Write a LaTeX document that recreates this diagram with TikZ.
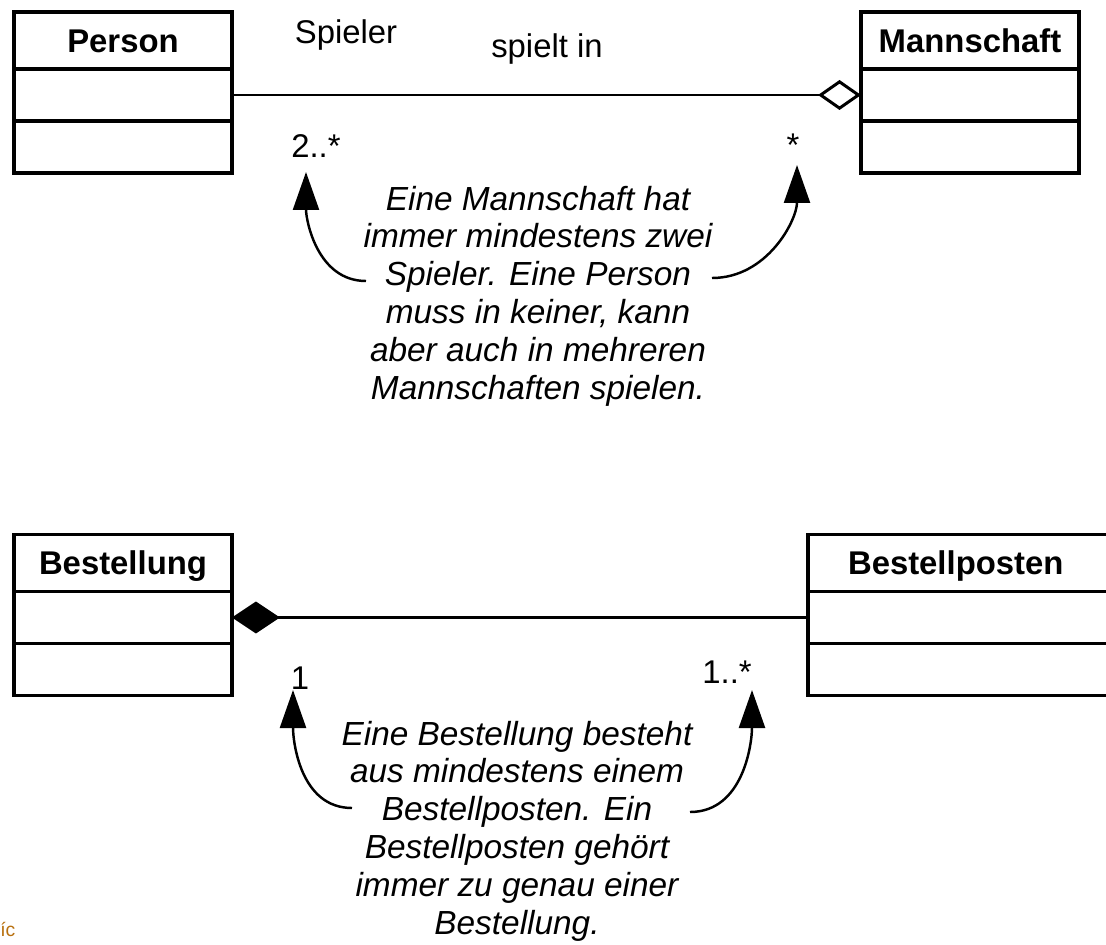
\documentclass[tikz,border=0pt]{standalone}
\usepackage{fontspec}
\setmainfont{Liberation Sans}
\usetikzlibrary{positioning,arrows.meta}
\definecolor{fragorange}{HTML}{B8700F}
\tikzset{classtitle/.style={draw, line width=2pt, outer sep=0pt, inner sep=0pt, minimum width=4.36cm, minimum height=1.14cm, font=\bfseries\fontsize{18.7}{22}\selectfont, text height=13.4pt, text depth=0pt},
  classpart/.style={draw, line width=2pt, outer sep=0pt, inner sep=0pt, minimum width=4.36cm, minimum height=1.04cm},
  assoc/.style={line width=1.7pt},
  rolename/.style={font=\fontsize{18.7}{22}\selectfont, inner sep=0pt, anchor=base},
  remark/.style={align=center, inner sep=0pt, font=\itshape\fontsize{19}{21.5}\selectfont},
  pointer/.style={line width=1.4pt, -{Triangle[length=0.76cm,width=0.52cm]}}}

\begin{document}
\begin{tikzpicture}[x=0.02cm,y=0.02cm]
   \useasboundingbox (0,0) rectangle (1106,-944);
   % Aggregation
   \node[classtitle] (person) at (123,-40.5) {Person};
   \node[classpart, below=0pt of person] (person-attr) {};
   \node[classpart, below=0pt of person-attr] (person-ops) {};
   \node[classtitle] (team) at (970,-40.5) {Mannschaft};
   \node[classpart, below=0pt of team] (team-attr) {};
   \node[classpart, below=0pt of team-attr] (team-ops) {};
   \draw[assoc, -{Diamond[open,length=0.86cm,width=0.6cm]}] (person-attr) -- (team-attr);
   \node[rolename] (role) at (346,-43) {Spieler};
   \node[rolename] (assoc-name) at (547,-57) {spielt in};
   \node[rolename] (mult-person) at (316,-157) {2..*};
   \node[rolename] (mult-team) at (793,-156) {*};
   \node[remark] (note-team) at (538,-296) {Eine Mannschaft hat\\immer mindestens zwei\\Spieler. Eine Person\\muss in keiner, kann\\aber auch in mehreren\\Mannschaften spielen.};
   \coordinate (tip-person) at (306,-172);
   \coordinate (tip-team) at (797,-165);
   \coordinate (from-left) at (366,-281);
   \coordinate (from-right) at (712,-278);
   \draw[pointer] (from-left) to[out=180,in=-90] (tip-person);
   \draw[pointer] (from-right) to[out=0,in=-90] (tip-team);
   % Komposition
   \node[classtitle] (order) at (123,-563) {Bestellung};
   \node[classpart, below=0pt of order] (order-attr) {};
   \node[classpart, below=0pt of order-attr] (order-ops) {};
   \node[classtitle, minimum width=6.6cm, text width=5cm, inner xsep=0.8cm, align=left] (item) at (973,-563) {Bestellposten};
   \node[classpart, minimum width=6.6cm, below=0pt of item] (item-attr) {};
   \node[classpart, minimum width=6.6cm, below=0pt of item-attr] (item-ops) {};
   \draw[assoc, {Diamond[length=0.96cm,width=0.64cm]}-] (order-attr) -- (item-attr);
   \node[rolename] (mult-order) at (300,-689) {1};
   \node[rolename] (mult-item) at (727,-683) {1..*};
   \node[remark] (note-order) at (517,-831) {Eine Bestellung besteht\\aus mindestens einem\\Bestellposten. Ein\\Bestellposten gehört\\immer zu genau einer\\Bestellung.};
   \coordinate (tip-order) at (293,-690);
   \coordinate (tip-item) at (752,-690);
   \coordinate (from-bl) at (352,-808);
   \coordinate (from-br) at (690,-812);
   \draw[pointer] (from-bl) to[out=180,in=-90] (tip-order);
   \draw[pointer] (from-br) to[out=0,in=-90] (tip-item);
   \node[rolename, anchor=base west, font=\fontsize{11}{13}\selectfont, text=fragorange] (frag) at (0,-936) {íc};
\end{tikzpicture}
\end{document}
